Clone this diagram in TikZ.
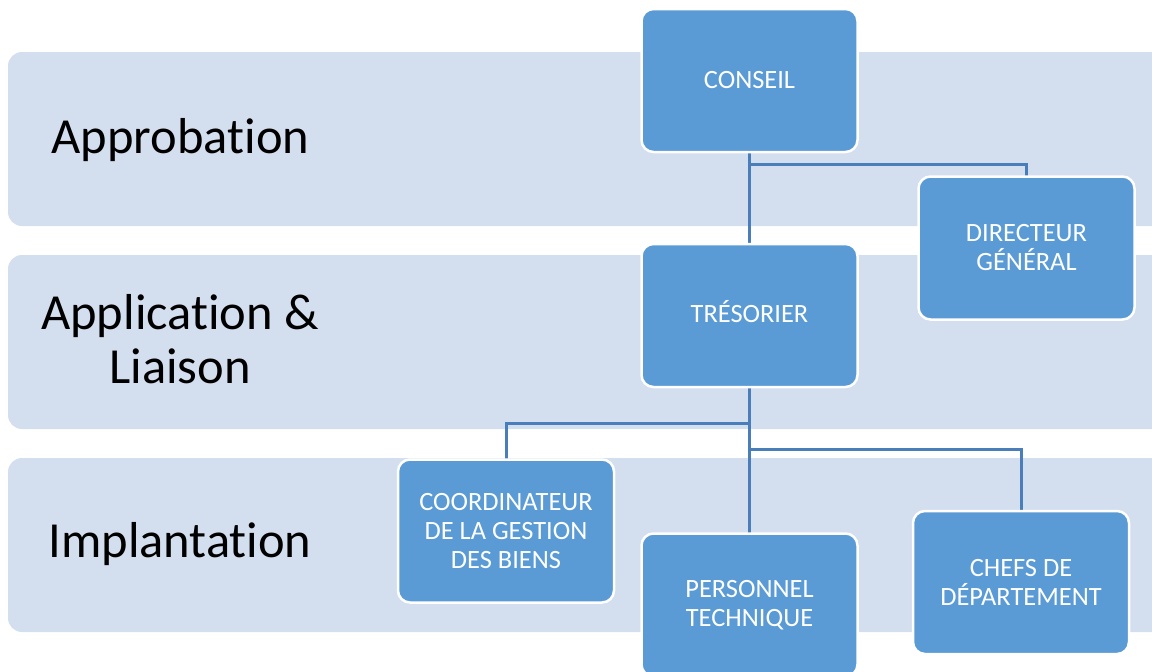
\documentclass[tikz,border=0pt]{standalone}
\usepackage{fontspec}
\setmainfont{Carlito}[Ligatures=NoCommon]
\definecolor{bandc}{RGB}{211,222,239}
\definecolor{boxc}{RGB}{91,155,213}
\definecolor{linec}{RGB}{74,126,187}
\begin{document}
\begin{tikzpicture}[x=1pt,y=-1pt,
  bandbox/.style={fill=bandc, rounded corners=14pt},
  orgbox/.style={draw=white, line width=2.5pt, fill=boxc, rounded corners=12pt,
    minimum width=216pt, minimum height=143pt, inner sep=0pt, outer sep=0pt,
    text=white, font=\fontsize{26.4}{29}\selectfont, align=center},
  bandlabel/.style={font=\fontsize{50.5}{52}\selectfont, text=black, anchor=base, inner sep=0pt},
  conn/.style={draw=linec, line width=3pt}]
\useasboundingbox (0,0) rectangle (1152,672);
\clip (0,0) rectangle (1152,672);
% bands
\path[bandbox] (8,52) rectangle (1170,226);
\path[bandbox] (8,255) rectangle (1170,429);
\path[bandbox] (8,458) rectangle (1170,632);
% band labels
\node[bandlabel] (lab1) at (180.5,153) {Approbation};
\node[bandlabel] (lab2a) at (180,329) {Application \&};
\node[bandlabel] (lab2b) at (180,383) {Liaison};
\node[bandlabel] (lab3) at (180,557) {Implantation};
% junctions
\coordinate (j1) at (749,164);
\coordinate (j2) at (749,423);
\coordinate (j3) at (749,449);
% connectors (drawn first, boxes on top)
\path[conn] (749,152) -- (749,243);
\path[conn] (j1) -| (1026,176);
\path[conn] (749,387) -- (749,533);
\path[conn] (j2) -| (506,459);
\path[conn] (j3) -| (1021,511);
% boxes
\node[orgbox] (conseil) at (749.5,80.5) {CONSEIL};
\node[orgbox] (dg) at (1026.5,248) {DIRECTEUR\\GÉNÉRAL};
\node[orgbox] (tres) at (749.5,315.5) {\smash{\raisebox{-7pt}{TRÉSORIER}}};
\node[orgbox] (coord) at (506,531) {COORDINATEUR\\DE LA GESTION\\DES BIENS};
\node[orgbox] (pers) at (749.5,605) {PERSONNEL\\TECHNIQUE};
\node[orgbox] (chefs) at (1021,582.5) {CHEFS DE\\DÉPARTEMENT};
\end{tikzpicture}
\end{document}
